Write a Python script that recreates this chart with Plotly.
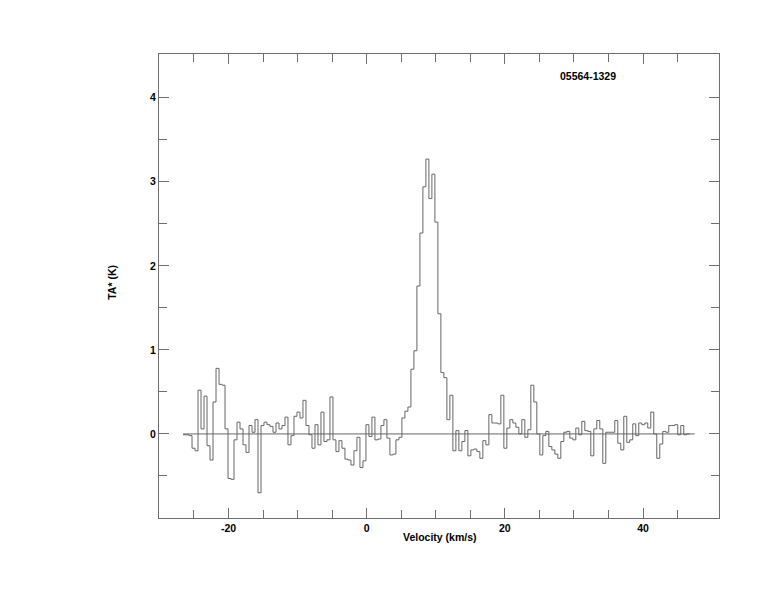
import plotly.graph_objects as go

# ---- data ----
source_name = "05564-1329"
v_start = -26.58          # km/s, left edge of first channel
chan_width = 0.434        # km/s
ta_values = [
    -0.01, -0.01, -0.02, -0.17, -0.20, 0.52, 0.06, 0.45, -0.14, -0.31,
    0.38, 0.78, 0.59, 0.58, 0.06, -0.53, -0.54, -0.07, 0.14, 0.06,
    -0.13, -0.22, 0.10, 0.02, 0.17, -0.70, 0.10, 0.14, 0.11, 0.09,
    0.02, 0.13, 0.06, 0.10, 0.20, -0.13, -0.02, 0.21, 0.26, 0.19,
    0.40, 0.10, -0.01, -0.17, 0.11, -0.13, 0.26, -0.09, -0.07, 0.44,
    -0.07, -0.21, -0.08, -0.17, -0.30, -0.31, -0.37, -0.20, -0.04, -0.40,
    -0.32, 0.11, -0.03, 0.20, -0.07, -0.06, 0.10, 0.17, -0.05, -0.25,
    -0.24, -0.07, -0.04, 0.19, 0.27, 0.32, 0.77, 0.99, 1.76, 2.39,
    2.94, 3.27, 2.80, 3.09, 2.52, 1.43, 0.73, 0.67, 0.17, 0.46,
    -0.20, 0.04, -0.20, -0.09, 0.04, -0.26, -0.19, -0.18, -0.21, -0.29,
    -0.08, -0.13, 0.23, 0.13, 0.13, 0.12, 0.46, -0.17, 0.07, 0.17,
    0.13, 0.08, 0.00, 0.17, -0.04, 0.05, 0.58, 0.38, 0.00, -0.25,
    -0.02, 0.03, -0.15, -0.19, -0.24, -0.29, -0.09, 0.02, 0.03, -0.05,
    -0.07, 0.07, -0.01, 0.15, 0.04, 0.03, -0.26, 0.06, 0.16, 0.06,
    -0.35, 0.02, 0.02, 0.02, 0.16, -0.11, -0.19, 0.21, -0.10, -0.07,
    0.12, -0.02, 0.13, 0.11, 0.13, 0.07, 0.26, 0.00, -0.29, -0.12,
    0.03, 0.02, 0.10, 0.10, 0.11, -0.01, 0.10, -0.01, 0.00,
]
baseline_v = [-26.58, 47.5]
baseline_t = [0.0, 0.0]

x_major = [-20, 0, 20, 40]
x_minor = [-25, -15, -10, -5, 5, 10, 15, 25, 30, 35, 45]
y_major = [0, 1, 2, 3, 4]
y_minor = [-0.5, 0.5, 1.5, 2.5, 3.5]
x_range = [-30.06, 51.0]
y_range = [-1.0, 4.52]

# channel edges for a histogram-style step line
edges = [v_start + i * chan_width for i in range(len(ta_values) + 1)]
step_y = ta_values + [ta_values[-1]]

axis_col = "#6e6e6e"
line_col = "#666666"
font_fam = "Liberation Sans, Arial, sans-serif"

fig = go.Figure()
fig.add_trace(go.Scatter(x=baseline_v, y=baseline_t, mode="lines",
                         line=dict(color=line_col, width=1), hoverinfo="skip",
                         showlegend=False))
fig.add_trace(go.Scatter(x=edges, y=step_y, mode="lines",
                         line=dict(color=line_col, width=1, shape="hv"),
                         showlegend=False))

common = dict(showgrid=False, zeroline=False, showline=True, linecolor=axis_col,
              linewidth=1.2, mirror="ticks", ticks="inside", tickcolor=axis_col,
              tickwidth=1.2, ticklen=10,
              tickfont=dict(family=font_fam, size=10.5, color="black", weight="bold"))

fig.update_xaxes(range=x_range, tickmode="array", tickvals=x_major,
                 ticktext=[str(v) for v in x_major],
                 minor=dict(tickmode="array", tickvals=x_minor, ticks="inside",
                            ticklen=8, tickcolor=axis_col, tickwidth=1.2),
                 **common)
fig.update_yaxes(range=y_range, tickmode="array", tickvals=y_major,
                 ticktext=[str(v) for v in y_major],
                 minor=dict(tickmode="array", tickvals=y_minor, ticks="inside",
                            ticklen=8, tickcolor=axis_col, tickwidth=1.2),
                 **common)

ann_font = dict(family=font_fam, size=10.5, color="black", weight="bold")
fig.update_layout(
    width=766, height=604,
    margin=dict(l=151, r=55, t=46, b=94),
    paper_bgcolor="white", plot_bgcolor="white",
    showlegend=False,
    annotations=[
        dict(text="Velocity (km/s)", xref="paper", yref="paper", x=0.502, y=-0.041,
             xanchor="center", yanchor="middle", showarrow=False, font=ann_font),
        dict(text="TA* (K)", xref="paper", yref="paper", x=-0.084, y=0.509,
             xanchor="center", yanchor="middle", showarrow=False, textangle=-90,
             font=ann_font),
        dict(text=source_name, xref="paper", yref="paper", x=0.766, y=0.953,
             xanchor="center", yanchor="middle", showarrow=False, font=ann_font),
    ],
)

fig.write_html("out.html")
